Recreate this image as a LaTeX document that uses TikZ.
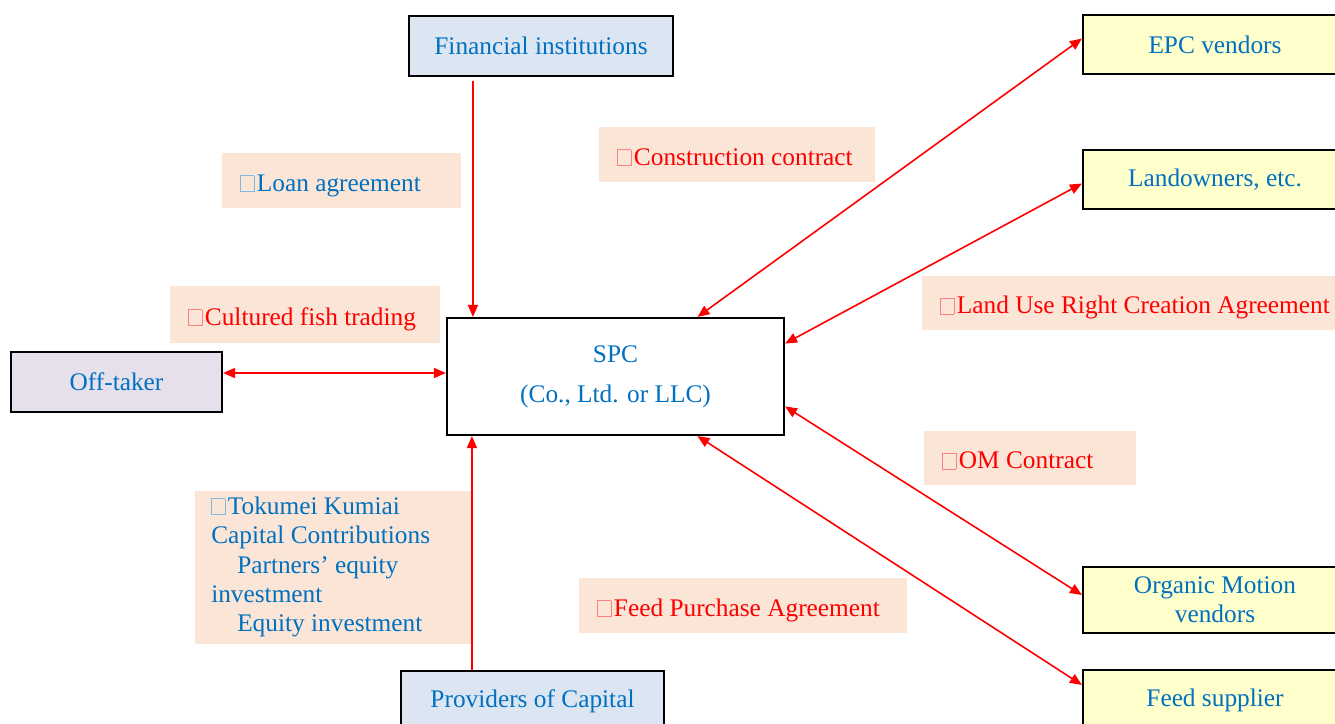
\documentclass[tikz,border=0pt]{standalone}
\usepackage{fontspec}
\setmainfont{Liberation Serif}
\usetikzlibrary{arrows.meta,calc}
\definecolor{tblue}{HTML}{0070C0}
\definecolor{tred}{HTML}{FF0000}
\definecolor{peach}{HTML}{FBE5D6}
\definecolor{boxblue}{HTML}{DCE6F2}
\definecolor{boxyellow}{HTML}{FFFFCC}
\definecolor{boxlav}{HTML}{E5E0EC}
\newcommand{\tofu}{{\color{.!50}\fboxsep=0pt\fboxrule=0.5pt\fbox{\rule{0pt}{11.5pt}\hspace{9.5pt}}}\hspace{2pt}}
\hyphenpenalty=10000
\begin{document}
\begin{tikzpicture}[x=0.75pt,y=-0.75pt,
  every node/.style={font=\fontsize{19pt}{22pt}\selectfont},
  party/.style={draw=black, line width=1.6pt, inner sep=0pt, align=center, text=tblue},
  lab/.style={fill=peach, anchor=west, inner xsep=13.5pt, inner ysep=0pt, align=flush left},
  one/.style={text height=18pt, text depth=2pt},
  arr/.style={draw=tred, line width=1.2pt, {Triangle[length=9pt,width=7.5pt]}-{Triangle[length=9pt,width=7.5pt]}},
  arrone/.style={draw=tred, line width=1.2pt, -{Triangle[length=9pt,width=7.5pt]}}]
\useasboundingbox (0,0) rectangle (1335,724);
\fill[white] (0,0) rectangle (1335,724);

% labels
\node[lab, one, text=tblue, text width=152.25pt, minimum height=41.25pt] (loan) at (222,180.5) {\tofu Loan agreement};
\node[lab, one, text=tred, text width=180pt, minimum height=41.25pt] (cons) at (599,154.5) {\tofu Construction contract};
\node[lab, one, text=tred, text width=175.5pt, minimum height=42.75pt] (cult) at (170,314.5) {\tofu Cultured fish trading};
\node[lab, one, text=tred, text width=320pt, minimum height=40.5pt] (landuse) at (922,303) {\tofu Land Use Right Creation Agreement};
\node[lab, one, text=tred, text width=132pt, minimum height=40.5pt] (omc) at (924,458) {\tofu OM Contract};
\node[lab, text=tblue, inner xsep=12pt, text width=184.5pt, minimum height=114.75pt] (toku) at (195,567)
  {\tofu Tokumei Kumiai\\Capital Contributions\\\hspace*{19.5pt}Partners’ equity\\investment\\\hspace*{19.5pt}Equity investment};
\node[lab, one, text=tred, text width=219pt, minimum height=41.25pt] (feedp) at (579,605.5) {\tofu Feed Purchase Agreement};

% parties
\node[party, fill=boxblue, minimum width=198pt, minimum height=45pt] (fin) at (541,46) {Financial institutions};
\node[party, fill=boxyellow, minimum width=198pt, minimum height=44.25pt] (epc) at (1215,44.5) {EPC vendors};
\node[party, fill=boxyellow, minimum width=198pt, minimum height=44.25pt] (land) at (1215,179.5) {Landowners, etc.};
\node[party, fill=boxyellow, minimum width=198pt, minimum height=49.5pt] (om) at (1215,600) {Organic Motion\\vendors};
\node[party, fill=boxyellow, minimum width=198pt, minimum height=45pt] (feed) at (1215,700) {Feed supplier};
\node[party, fill=white, minimum width=252.75pt, minimum height=87.75pt] (spc) at (615.5,376.5) {SPC\\[8pt](Co., Ltd. or LLC)};
\node[party, fill=boxlav, minimum width=158.25pt, minimum height=45pt] (off) at (116.5,382) {Off-taker};
\node[party, fill=boxblue, minimum width=197.25pt, minimum height=45pt] (prov) at (532.5,701) {Providers of Capital};

% connectors
\coordinate (f1) at ($(fin.south west)+(65,4)$);
\draw[arrone] (f1) -- (f1 |- spc.north);
\coordinate (p1) at ($(prov.north west)+(72,0)$);
\draw[arrone] (p1) -- (p1 |- spc.south);
\coordinate (o1) at ($(off.east)+(0,-9)$);
\draw[arr] (o1) -- (o1 -| spc.west);
\draw[arr] ($(epc.west)+(0,-6)$) -- (spc.36);
\draw[arr] ($(land.west)+(0,4)$) -- (spc.11);
\draw[arr] ($(om.west)+(0,-5)$) -- (spc.-10);
\draw[arr] ($(feed.north west)+(0,16)$) -- (spc.-36);
\end{tikzpicture}
\end{document}
